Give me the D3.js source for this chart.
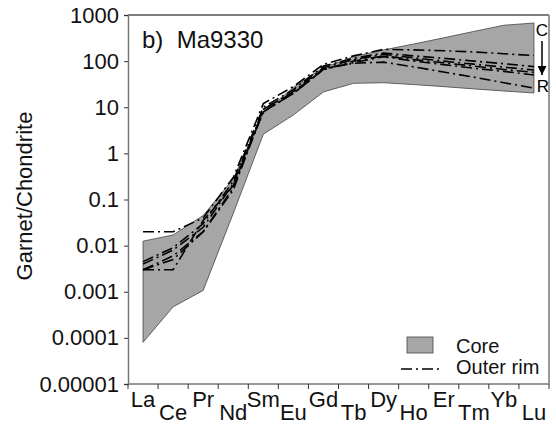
<!DOCTYPE html>
<html>
<head>
<meta charset="utf-8">
<script src="https://cdn.jsdelivr.net/npm/d3@7"></script>
<style>
  body { margin: 0; background: #fff; }
  svg { font-family: "Liberation Sans", Arial, sans-serif; }
</style>
</head>
<body>
<svg width="556" height="432"></svg>
<script>
var elements = ["La", "Ce", "Pr", "Nd", "Sm", "Eu", "Gd", "Tb", "Dy", "Ho", "Er", "Tm", "Yb", "Lu"];

// core field (min / max)
var coreMax = [0.0125, 0.017, 0.045, 0.28, 7.5, 27, 72, 125, 175, 235, 320, 440, 600, 670];
var coreMin = [0.00008, 0.00047, 0.00107, 0.05, 2.6, 6.8, 21.5, 33, 34, 31, 28, 25, 22.5, 20.4];

// outer rim analyses
var rim1 = [0.02, 0.02, 0.04, 0.3, 12, 28, 85, 130, 180, 175, 168, 158, 145, 132];
var rim2 = [0.0045, 0.009, 0.03, 0.25, 10, 24, 78, 115, 150, 130, 115, 100, 88, 76];
var rim3 = [0.004, 0.008, 0.025, 0.22, 9, 22, 72, 108, 140, 118, 100, 86, 74, 64];
var rim4 = [0.003, 0.003, 0.035, 0.2, 8, 20, 66, 100, 130, 108, 92, 78, 66, 57];
var rim5 = [0.003, 0.006, 0.02, 0.18, 8, 20, 66, 92, 125, 100, 84, 70, 60, 50];
var rim6 = [0.003, 0.005, 0.02, 0.16, 9, 21, 68, 90, 95, 75, 58, 45, 34, 26];
var rims = [rim1, rim2, rim3, rim4, rim5, rim6];

var yTicks = [1000, 100, 10, 1, 0.1, 0.01, 0.001, 0.0001, 0.00001];
var yTickLabels = ["1000", "100", "10", "1", "0.1", "0.01", "0.001", "0.0001", "0.00001"];

var svg = d3.select("svg"),
    plotLeft = 128, plotRight = 549, plotTop = 15, plotBottom = 384;

var x = d3.scaleBand().domain(elements).range([plotLeft, plotRight]).padding(0);
var y = d3.scaleLog().domain([0.00001, 1000]).range([plotBottom, plotTop]);

function cx(e) { return x(e) + x.bandwidth() / 2; }

// core field
var coreData = elements.map(function(e, i) {
  return { el: e, lo: coreMin[i], hi: coreMax[i] };
});
var area = d3.area()
    .x(function(d) { return cx(d.el); })
    .y0(function(d) { return y(d.lo); })
    .y1(function(d) { return y(d.hi); });

svg.append("path")
    .datum(coreData)
    .attr("d", area)
    .attr("fill", "#a6a6a6")
    .attr("stroke", "#444")
    .attr("stroke-width", 0.8);

// rim lines
var line = d3.line()
    .x(function(d, i) { return cx(elements[i]); })
    .y(function(d) { return y(d); });

svg.selectAll(".rim").data(rims).enter().append("path")
    .attr("class", "rim")
    .attr("d", line)
    .attr("fill", "none")
    .attr("stroke", "#000")
    .attr("stroke-width", 1.6)
    .attr("stroke-dasharray", "11,4,2,4");

// frame
svg.append("line").attr("x1", plotLeft).attr("x2", plotRight).attr("y1", plotTop).attr("y2", plotTop)
    .attr("stroke", "#000").attr("stroke-width", 1);
svg.append("line").attr("x1", plotRight).attr("x2", plotRight).attr("y1", plotTop).attr("y2", plotBottom)
    .attr("stroke", "#777").attr("stroke-width", 1.5);

// y axis
var yAxis = d3.axisLeft(y).tickValues(yTicks)
    .tickFormat(function(d, i) { return yTickLabels[i]; })
    .tickSize(4).tickPadding(5);
var gy = svg.append("g").attr("transform", "translate(" + plotLeft + ",0)").call(yAxis);
gy.select(".domain").attr("stroke", "#777").attr("stroke-width", 1.5);
gy.selectAll(".tick line").attr("stroke", "#333");
gy.selectAll("text").attr("font-size", 22).attr("fill", "#111")
    .attr("font-family", "Liberation Sans, Arial, sans-serif");

// x axis
var gx = svg.append("g").attr("transform", "translate(0," + plotBottom + ")");
gx.append("line").attr("x1", plotLeft).attr("x2", plotRight)
    .attr("stroke", "#777").attr("stroke-width", 1.5);
var edges = elements.map(function(e) { return x(e); }).concat([plotRight]);
gx.selectAll(".xt").data(edges).enter().append("line")
    .attr("x1", function(d) { return d; }).attr("x2", function(d) { return d; })
    .attr("y1", 0).attr("y2", 5).attr("stroke", "#333");
gx.selectAll(".xl").data(elements).enter().append("text")
    .attr("x", function(d) { return cx(d); })
    .attr("y", function(d, i) { return i % 2 === 0 ? 23 : 36; })
    .attr("text-anchor", "middle")
    .attr("font-size", 22)
    .attr("fill", "#111")
    .text(function(d) { return d; });

// y title
svg.append("text")
    .attr("transform", "translate(32,196) rotate(-90)")
    .attr("text-anchor", "middle")
    .attr("font-size", 22)
    .attr("fill", "#111")
    .text("Garnet/Chondrite");

// panel title
svg.append("text").attr("x", 142).attr("y", 48)
    .attr("font-size", 24).attr("fill", "#111")
    .attr("xml:space", "preserve")
    .text("b)  Ma9330");

// core -> rim arrow
svg.append("text").attr("x", 542).attr("y", 36).attr("text-anchor", "middle")
    .attr("font-size", 17).text("C");
svg.append("text").attr("x", 543).attr("y", 92).attr("text-anchor", "middle")
    .attr("font-size", 17).text("R");
svg.append("defs").append("marker")
    .attr("id", "arr").attr("viewBox", "0 0 10 10").attr("refX", 10).attr("refY", 5)
    .attr("markerWidth", 6).attr("markerHeight", 6).attr("orient", "auto")
  .append("path").attr("d", "M0,0L10,5L0,10z").attr("fill", "#000");
svg.append("line").attr("x1", 542).attr("x2", 542).attr("y1", 41).attr("y2", 75)
    .attr("stroke", "#000").attr("stroke-width", 1.5).attr("marker-end", "url(#arr)");

// legend
svg.append("rect").attr("x", 407).attr("y", 337).attr("width", 26).attr("height", 16)
    .attr("fill", "#a6a6a6").attr("stroke", "#444").attr("stroke-width", 0.8);
svg.append("text").attr("x", 456).attr("y", 353).attr("font-size", 20).attr("fill", "#111").text("Core");
svg.append("line").attr("x1", 401).attr("x2", 441).attr("y1", 369).attr("y2", 369)
    .attr("stroke", "#000").attr("stroke-width", 1.6).attr("stroke-dasharray", "11,4,2,4");
svg.append("text").attr("x", 456).attr("y", 374).attr("font-size", 20).attr("fill", "#111").text("Outer rim");
</script>
</body>
</html>
